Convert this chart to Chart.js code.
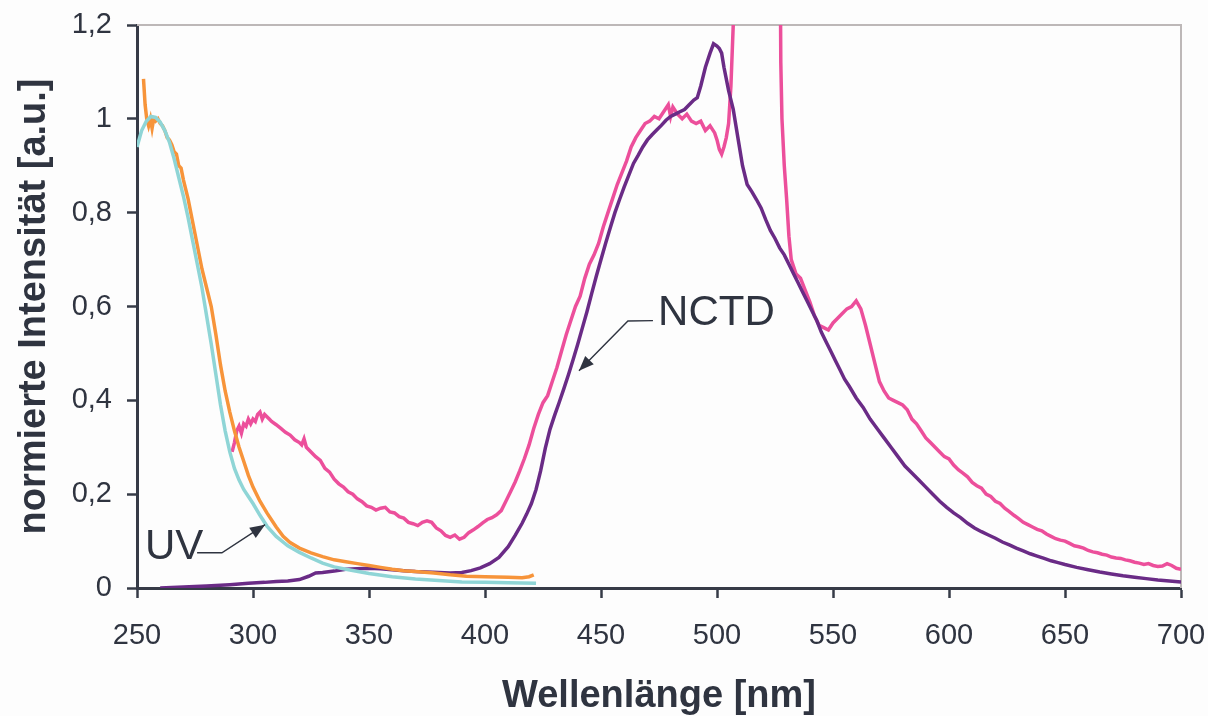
<!DOCTYPE html>
<html>
<head>
<meta charset="utf-8">
<script src="https://cdn.jsdelivr.net/npm/chart.js@4.4.1/dist/chart.umd.min.js"></script>
<style>
  html, body { margin: 0; padding: 0; background: #fdfdfd; }
  #wrap { width: 1208px; height: 716px; }
</style>
</head>
<body>
<div id="wrap"><canvas id="spektrum" width="1208" height="716"></canvas></div>
<script>
// Absorption (orange)
const absANm = [252.8, 253.5, 254.2, 255, 255.8, 256.5, 257.2, 258, 259, 260, 261, 262, 263, 264, 265, 266, 267, 268, 269, 270,
  272, 274, 276, 278, 280, 282, 284, 286, 288, 290, 292, 294, 296, 298, 300, 303, 306, 310, 313, 316, 320, 325, 330, 335,
  340, 345, 350, 355, 360, 365, 370, 378, 385, 392, 400, 410, 416, 419, 421];
const absAVal = [1.085, 1.03, 1.0, 0.985, 1.0, 0.98, 1.0, 0.995, 1.0, 0.99, 0.985, 0.975, 0.96, 0.955, 0.945, 0.93, 0.925, 0.9, 0.895, 0.87,
  0.83, 0.78, 0.73, 0.68, 0.64, 0.6, 0.54, 0.475, 0.42, 0.375, 0.335, 0.3, 0.27, 0.24, 0.215, 0.185, 0.16, 0.13, 0.11, 0.097,
  0.085, 0.075, 0.067, 0.06, 0.056, 0.052, 0.048, 0.044, 0.04, 0.037, 0.035, 0.032, 0.028, 0.025, 0.024, 0.023, 0.022, 0.024, 0.028];

// Absorption (cyan)
const absBNm = [250, 252, 254, 256, 258, 260, 262, 264, 266, 268, 270, 272, 274, 276, 278, 280, 282, 284, 286, 288, 290, 292,
  294, 296, 298, 300, 303, 306, 310, 315, 320, 325, 330, 335, 340, 350, 360, 370, 380, 390, 400, 410, 422];
const absBVal = [0.94, 0.975, 0.995, 1.005, 1.003, 0.993, 0.975, 0.95, 0.915, 0.875, 0.835, 0.79, 0.74, 0.69, 0.64, 0.58, 0.52,
  0.455, 0.39, 0.335, 0.29, 0.255, 0.23, 0.21, 0.195, 0.18, 0.155, 0.132, 0.11, 0.09, 0.076, 0.064, 0.053, 0.045, 0.04, 0.031,
  0.024, 0.019, 0.016, 0.013, 0.012, 0.011, 0.01];

// Emission NCTD (purple)
const nctdNm = [260, 270, 280, 290, 298, 305, 310, 315, 320, 324, 327, 330, 335, 340, 345, 350, 355, 360, 365, 370, 375, 380,
  385, 390, 394, 398, 402, 406, 410, 413, 416, 418, 420, 422, 424, 426, 428, 430, 432, 434, 436, 438, 440, 442, 444, 446,
  448, 450, 452, 454, 456, 458, 460, 462, 464, 466, 468, 470, 472, 474, 476, 478, 480, 482, 484, 486, 488, 490, 491.5, 493,
  495, 497, 498.5, 500, 501, 502, 503, 504, 505, 507, 509, 511, 513, 515, 517, 519, 521, 523, 525, 527, 529, 531, 533, 535,
  537, 539, 541, 543, 545, 547, 549, 551, 553, 555, 557, 560, 563, 566, 569, 572, 575, 578, 581, 584, 587, 590, 593, 596,
  599, 602, 605, 608, 611, 614, 617, 620, 623, 626, 629, 632, 635, 638, 641, 644, 647, 650, 655, 660, 665, 670, 675, 680,
  685, 690, 695, 700];
const nctdVal = [0.0, 0.002, 0.004, 0.007, 0.01, 0.012, 0.014, 0.015, 0.018, 0.025, 0.032, 0.033, 0.036, 0.04, 0.041, 0.042,
  0.041, 0.039, 0.037, 0.035, 0.034, 0.033, 0.032, 0.033, 0.037, 0.043, 0.052, 0.065, 0.088, 0.112, 0.138, 0.158, 0.18, 0.21,
  0.25, 0.298, 0.338, 0.368, 0.396, 0.425, 0.455, 0.487, 0.52, 0.555, 0.59, 0.628, 0.665, 0.7, 0.735, 0.768, 0.8, 0.828, 0.855,
  0.88, 0.905, 0.922, 0.94, 0.955, 0.966, 0.976, 0.986, 0.997, 1.005, 1.01, 1.015, 1.02, 1.03, 1.04, 1.045, 1.07, 1.11, 1.14,
  1.16, 1.155, 1.15, 1.14, 1.11, 1.085, 1.06, 1.02, 0.96, 0.9, 0.86, 0.845, 0.828, 0.81, 0.785, 0.762, 0.745, 0.725, 0.71,
  0.69, 0.67, 0.65, 0.63, 0.61, 0.59, 0.57, 0.545, 0.525, 0.505, 0.485, 0.465, 0.445, 0.43, 0.405, 0.385, 0.36, 0.34, 0.32,
  0.3, 0.28, 0.26, 0.245, 0.23, 0.215, 0.2, 0.185, 0.172, 0.16, 0.15, 0.138, 0.128, 0.12, 0.113, 0.106, 0.098, 0.092, 0.085,
  0.079, 0.073, 0.068, 0.063, 0.058, 0.054, 0.05, 0.044, 0.039, 0.034, 0.03, 0.026, 0.023, 0.02, 0.017, 0.015, 0.013];

// Emission (pink) incl. the scattered excitation line near 517 nm
const pinkNm = [291, 292, 293, 294, 295, 296, 297, 298, 299, 300, 301, 302, 303, 304, 305, 306, 307, 308, 310, 312, 314, 316,
  318, 320, 321, 322, 323, 325, 327, 329, 331, 333, 335, 337, 339, 341, 343, 345, 347, 349, 351, 353, 355, 357, 359, 361,
  363, 365, 367, 369, 371, 373, 375, 377, 379, 381, 383, 385, 387, 389, 391, 393, 395, 397, 399, 401, 403, 405, 407, 409,
  411, 413, 415, 417, 419, 421, 423, 425, 427, 429, 431, 433, 435, 437, 439, 441, 443, 445, 447, 449, 451, 453, 455, 457,
  459, 461, 463, 465, 467, 469, 471, 473, 475, 477, 479, 480, 481, 483, 485, 487, 489, 491, 493, 495, 497, 499, 500, 501,
  502, 503, 504, 505, 506, 507, 508.5, 512, 518, 524, 526.5, 527.5, 528, 529, 530, 531, 532, 534, 536, 538, 540, 542, 544,
  546, 548, 550, 552, 554, 556, 558, 560, 562, 564, 566, 568, 570, 572, 574, 576, 578, 580, 582, 584, 586, 588, 590, 592,
  594, 596, 598, 600, 602, 604, 606, 608, 610, 612, 614, 616, 618, 620, 622, 624, 626, 628, 630, 632, 634, 636, 638, 640,
  642, 644, 646, 648, 650, 652, 654, 656, 658, 660, 662, 664, 666, 668, 670, 672, 674, 676, 678, 680, 682, 684, 686, 688,
  690, 692, 694, 696, 698, 700];
const pinkVal = [0.29, 0.31, 0.335, 0.345, 0.33, 0.35, 0.345, 0.36, 0.35, 0.36, 0.355, 0.37, 0.375, 0.36, 0.37, 0.365, 0.36,
  0.355, 0.348, 0.34, 0.332, 0.326, 0.316, 0.31, 0.305, 0.318, 0.3, 0.29, 0.28, 0.272, 0.255, 0.247, 0.232, 0.222, 0.215,
  0.205, 0.2, 0.19, 0.184, 0.175, 0.172, 0.166, 0.17, 0.172, 0.162, 0.16, 0.152, 0.149, 0.14, 0.137, 0.133, 0.14, 0.143,
  0.14, 0.128, 0.122, 0.112, 0.108, 0.113, 0.104, 0.108, 0.118, 0.124, 0.131, 0.139, 0.146, 0.15, 0.156, 0.165, 0.185,
  0.205, 0.226, 0.25, 0.276, 0.305, 0.34, 0.37, 0.395, 0.41, 0.44, 0.47, 0.505, 0.54, 0.57, 0.6, 0.622, 0.66, 0.69, 0.71,
  0.735, 0.77, 0.8, 0.83, 0.86, 0.885, 0.91, 0.94, 0.96, 0.975, 0.99, 0.995, 1.005, 1.0, 1.015, 1.03, 1.005, 1.025, 1.01,
  1.0, 1.01, 0.995, 0.99, 0.995, 0.975, 0.985, 0.97, 0.955, 0.935, 0.925, 0.94, 0.96, 0.99, 1.07, 1.2, 1.8, 3.0, 3.5, 3.0,
  2.0, 1.12, 1.0, 0.9, 0.83, 0.75, 0.7, 0.67, 0.66, 0.635, 0.61, 0.58, 0.56, 0.555, 0.55, 0.565, 0.575, 0.585, 0.595, 0.6,
  0.612, 0.595, 0.56, 0.52, 0.48, 0.44, 0.42, 0.405, 0.4, 0.395, 0.39, 0.38, 0.36, 0.35, 0.335, 0.32, 0.31, 0.3, 0.29, 0.28,
  0.275, 0.262, 0.252, 0.245, 0.237, 0.225, 0.218, 0.213, 0.2, 0.195, 0.185, 0.18, 0.17, 0.163, 0.155, 0.148, 0.14, 0.135,
  0.13, 0.125, 0.122, 0.115, 0.11, 0.105, 0.102, 0.1, 0.095, 0.09, 0.088, 0.085, 0.08, 0.077, 0.075, 0.072, 0.07, 0.066,
  0.064, 0.063, 0.06, 0.058, 0.055, 0.053, 0.05, 0.052, 0.048, 0.046, 0.047, 0.052, 0.048, 0.042, 0.04];

const xTicks = [250, 300, 350, 400, 450, 500, 550, 600, 650, 700];
const yTicks = [0, 0.2, 0.4, 0.6, 0.8, 1, 1.2];

// Label text, anchor and leader path (nm / a.u.)
const labelText = ['UV', 'NCTD'];
const labelAt = [[253.4, 0.062], [474.6, 0.56]];
const leaderPath = [
  [[275.9, 0.075], [286.6, 0.075], [305.2, 0.135]],
  [[472.4, 0.57], [461.6, 0.569], [440.5, 0.463]]
];

const ink = '#2f3440';
const axisInk = '#363b47';
const family = '"Liberation Sans", Arial, sans-serif';

function toPoints(xs, ys) {
  return xs.map((x, i) => ({ x: x, y: ys[i] }));
}

const frame = {
  id: 'frame',
  beforeDatasetsDraw(chart) {
    const { ctx, chartArea: a } = chart;
    ctx.save();
    ctx.strokeStyle = '#bdb8b8';
    ctx.lineWidth = 2;
    ctx.beginPath();
    ctx.moveTo(a.left, a.top);
    ctx.lineTo(a.right, a.top);
    ctx.lineTo(a.right, a.bottom);
    ctx.stroke();
    ctx.restore();
  }
};

const labels = {
  id: 'labels',
  afterDatasetsDraw(chart) {
    const { ctx, scales: { x, y } } = chart;
    ctx.save();
    ctx.font = '42px ' + family;
    ctx.fillStyle = ink;
    ctx.textBaseline = 'alphabetic';
    labelText.forEach((t, i) => {
      ctx.fillText(t, x.getPixelForValue(labelAt[i][0]), y.getPixelForValue(labelAt[i][1]));
    });
    ctx.strokeStyle = ink;
    ctx.lineWidth = 1.4;
    leaderPath.forEach(path => {
      const pts = path.map(p => [x.getPixelForValue(p[0]), y.getPixelForValue(p[1])]);
      ctx.beginPath();
      ctx.moveTo(pts[0][0], pts[0][1]);
      pts.slice(1).forEach(p => ctx.lineTo(p[0], p[1]));
      ctx.stroke();
      // arrow head at the last point
      const [x1, y1] = pts[pts.length - 2];
      const [x2, y2] = pts[pts.length - 1];
      const ang = Math.atan2(y2 - y1, x2 - x1);
      const len = 15, half = 6;
      ctx.beginPath();
      ctx.moveTo(x2, y2);
      ctx.lineTo(x2 - len * Math.cos(ang) + half * Math.sin(ang), y2 - len * Math.sin(ang) - half * Math.cos(ang));
      ctx.lineTo(x2 - len * Math.cos(ang) - half * Math.sin(ang), y2 - len * Math.sin(ang) + half * Math.cos(ang));
      ctx.closePath();
      ctx.fillStyle = ink;
      ctx.fill();
    });
    ctx.restore();
  }
};

const line = (data, color, width) => ({
  data: data,
  borderColor: color,
  borderWidth: width,
  pointRadius: 0,
  tension: 0,
  fill: false
});

new Chart(document.getElementById('spektrum'), {
  type: 'line',
  data: {
    datasets: [
      line(toPoints(absBNm, absBVal), '#8fd5d6', 3.5),
      line(toPoints(absANm, absAVal), '#f7943a', 3.5),
      line(toPoints(nctdNm, nctdVal), '#6a2b86', 3.5),
      line(toPoints(pinkNm, pinkVal), '#ec4f9b', 3.5)
    ]
  },
  options: {
    responsive: false,
    animation: false,
    events: [],
    layout: { padding: { top: 25, right: 27, left: 0, bottom: 0 } },
    plugins: { legend: { display: false }, tooltip: { enabled: false } },
    scales: {
      x: {
        type: 'linear',
        min: 250,
        max: 700,
        // fixed axis band; end labels may overhang the plot area
        afterFit: s => { s.height = 128; s.paddingLeft = 0; s.paddingRight = 0; },
        afterBuildTicks: s => { s.ticks = xTicks.map(v => ({ value: v })); },
        grid: { drawOnChartArea: false, tickLength: 10, tickColor: axisInk, tickWidth: 2.5 },
        border: { color: axisInk, width: 3 },
        ticks: {
          color: ink,
          padding: 21,
          maxRotation: 0,
          font: { family: family, size: 29 }
        },
        title: {
          display: true,
          text: 'Wellenlänge [nm]',
          color: ink,
          padding: { top: 0, bottom: 0 },
          font: { family: family, size: 38, weight: 'bold', lineHeight: 1 }
        }
      },
      y: {
        min: 0,
        max: 1.2,
        afterFit: s => { s.width = 137; s.paddingTop = 0; s.paddingBottom = 0; },
        afterBuildTicks: s => { s.ticks = yTicks.map(v => ({ value: v })); },
        grid: { drawOnChartArea: false, tickLength: 10, tickColor: axisInk, tickWidth: 2.5 },
        border: { color: axisInk, width: 3 },
        ticks: {
          color: ink,
          padding: 15,
          font: { family: family, size: 29 },
          callback: v => String(+v.toFixed(1)).replace('.', ',')
        },
        title: {
          display: true,
          text: 'normierte Intensität [a.u.]',
          color: ink,
          padding: { top: 16, bottom: 0 },
          font: { family: family, size: 38, weight: 'bold', lineHeight: 1 }
        }
      }
    }
  },
  plugins: [frame, labels]
});
</script>
</body>
</html>
